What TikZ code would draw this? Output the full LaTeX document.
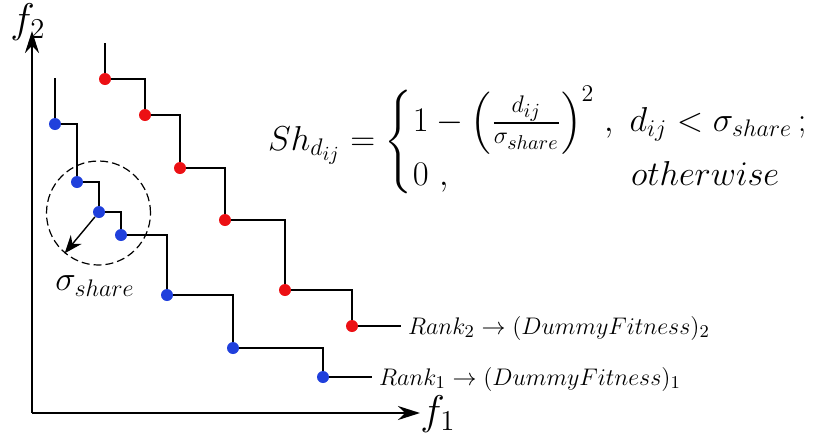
\documentclass[tikz,border=0pt]{standalone}
\usepackage{amsmath,amssymb}
\usepackage{xcolor}
\usetikzlibrary{arrows.meta, positioning, calc}

\definecolor{rankone}{RGB}{32,64,220}
\definecolor{ranktwo}{RGB}{236,16,20}

\begin{document}
\begin{tikzpicture}[x=0.5pt, y=-0.5pt,
    bdot/.style={circle, fill=rankone, inner sep=0pt, minimum size=6pt},
    rdot/.style={circle, fill=ranktwo, inner sep=0pt, minimum size=6pt},
    stair/.style={line width=0.65pt},
    ranklabel/.style={anchor=west, font=\fontsize{12.8}{15}\selectfont},
    axis/.style={line width=1pt, -{Stealth[length=11pt, width=7pt]}}]
    \useasboundingbox (0,0) rectangle (831,436);

    % Axes
    \coordinate (o) at (32,413);
    \coordinate (xend) at (420,413);
    \coordinate (yend) at (32,31);
    \draw[axis] (o) -- (xend);
    \draw[axis] (o) -- (yend);
    \node[font=\huge] (f1) at (438,414) {$f_1$};
    \node[font=\huge] (f2) at (28,22) {$f_2$};

    % Rank 1 front (blue)
    \foreach \n/\x/\y in {1/55/124, 2/77/182, 3/99/212, 4/121/235, 5/167/295, 6/233/348, 7/323/377}
        \node[bdot] (b\n) at (\x,\y) {};
    \coordinate (btop) at (55,78);
    \draw[stair] (btop) -- (b1);
    \foreach \a/\b in {1/2, 2/3, 3/4, 4/5, 5/6, 6/7}
        \draw[stair] (b\a) -| (b\b);

    % Rank 2 front (red)
    \foreach \n/\x/\y in {1/105/79, 2/145/115, 3/180/168, 4/225/220, 5/285/290, 6/352/326}
        \node[rdot] (r\n) at (\x,\y) {};
    \coordinate (rtop) at (105,43);
    \draw[stair] (rtop) -- (r1);
    \foreach \a/\b in {1/2, 2/3, 3/4, 4/5, 5/6}
        \draw[stair] (r\a) -| (r\b);

    % Rank labels
    \node[ranklabel] (rank1) at (372,379) {$Rank_1 \rightarrow (DummyFitness)_1$};
    \node[ranklabel] (rank2) at (401,328) {$Rank_2 \rightarrow (DummyFitness)_2$};
    \draw[stair] (b7) -- (rank1.west |- b7);
    \draw[stair] (r6) -- (rank2.west |- r6);

    % Sharing radius
    \node[draw, dash pattern=on 4pt off 2pt, circle, line width=0.6pt, minimum size=52pt, inner sep=0pt] (share) at (98.5,213) {};
    \draw[line width=0.7pt, -{Stealth[length=9pt, width=7pt]}] (b3) -- (share.230);
    \node[font=\LARGE] (sigma) at (95,286) {$\sigma_{share}$};

    % Sharing function
    \node[anchor=west, font=\LARGE] (eq) at (261,142)
        {$Sh_{d_{ij}} = \left\{\begin{array}{@{}l@{\;}c@{}}
            1-\Bigl(\frac{d_{ij}}{\sigma_{share}}\Bigr)^{2} & ,\ d_{ij}<\sigma_{share}\,; \\[1pt]
            0\ , & otherwise
        \end{array}\right.$};
\end{tikzpicture}
\end{document}
